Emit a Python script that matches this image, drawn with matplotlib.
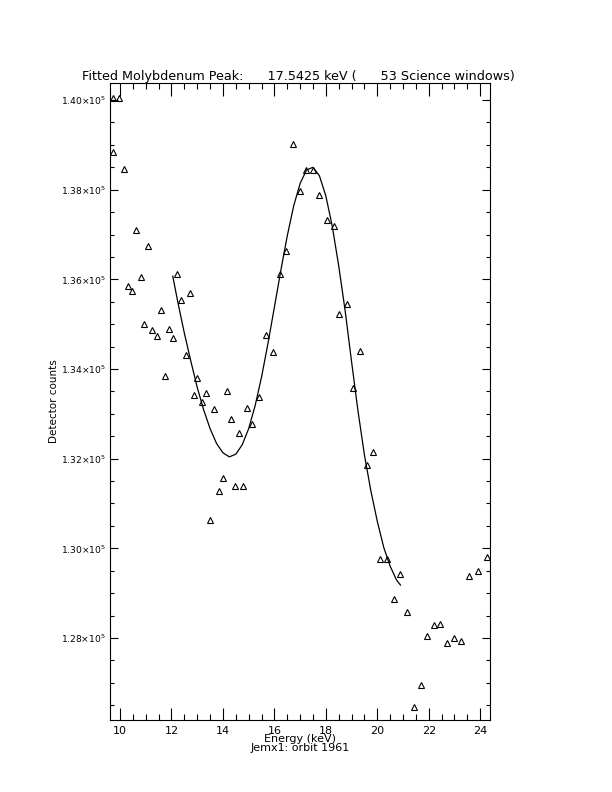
import matplotlib
matplotlib.use("Agg")
import matplotlib.pyplot as plt
from matplotlib.ticker import FixedLocator, MultipleLocator

# 測定点（三角マーカー）
energy = [9.71, 9.74, 9.97, 10.14, 10.31, 10.46, 10.63, 10.80, 10.93, 11.09,
          11.25, 11.43, 11.59, 11.75, 11.90, 12.06, 12.22, 12.36, 12.56, 12.71,
          12.87, 13.01, 13.17, 13.34, 13.49, 13.65, 13.83, 13.99, 14.15, 14.31,
          14.46, 14.62, 14.78, 14.95, 15.14, 15.42, 15.69, 15.94, 16.20, 16.46,
          16.72, 16.98, 17.24, 17.49, 17.75, 18.04, 18.30, 18.53, 18.81, 19.07,
          19.31, 19.59, 19.85, 20.11, 20.37, 20.63, 20.88, 21.16, 21.43, 21.68,
          21.93, 22.19, 22.45, 22.72, 22.98, 23.24, 23.55, 23.92, 24.26]
counts = [140040, 138830, 140040, 138460, 135860, 135750, 137110, 136050, 135010, 136740,
          134880, 134740, 135320, 133840, 134900, 134700, 136110, 135550, 134310, 135690,
          133410, 133810, 133270, 133470, 130630, 133100, 131270, 131560, 133520, 132890,
          131380, 132580, 131380, 133130, 132780, 133370, 134760, 134380, 136120, 136640,
          139030, 137980, 138440, 138440, 137880, 137320, 137190, 135230, 135450, 133570,
          134410, 131850, 132140, 129770, 129770, 128870, 129420, 128590, 126470, 126940,
          128050, 128290, 128320, 127880, 128010, 127930, 129390, 129500, 129800]

# フィット曲線
fit_energy = [12.05, 12.25, 12.50, 12.75, 13.00, 13.25, 13.50, 13.75, 14.00, 14.25,
              14.50, 14.75, 15.00, 15.25, 15.50, 15.75, 16.00, 16.25, 16.50, 16.75,
              17.00, 17.25, 17.50, 17.75, 18.00, 18.25, 18.50, 18.75, 19.00, 19.25,
              19.50, 19.75, 20.00, 20.25, 20.50, 20.75, 20.90]
fit_counts = [136070, 135480, 134800, 134180, 133590, 133090, 132670, 132340, 132130, 132040,
              132100, 132310, 132670, 133180, 133820, 134570, 135380, 136200, 136970, 137640,
              138140, 138440, 138500, 138310, 137860, 137180, 136300, 135300, 134160, 133060,
              132080, 131280, 130600, 130020, 129600, 129290, 129180]

x_ticks = [10, 12, 14, 16, 18, 20, 22, 24]
y_ticks = [128000, 130000, 132000, 134000, 136000, 138000, 140000]
y_tick_labels = [r"1.28$\times$10$^5$", r"1.30$\times$10$^5$", r"1.32$\times$10$^5$",
                 r"1.34$\times$10$^5$", r"1.36$\times$10$^5$", r"1.38$\times$10$^5$",
                 r"1.40$\times$10$^5$"]

title = "Fitted Molybdenum Peak:      17.5425 keV (      53 Science windows)"

fig = plt.figure(figsize=(6.12, 7.92), dpi=100)
ax = fig.add_axes([110 / 612, 72 / 792, 380 / 612, 637 / 792])

ax.plot(energy, counts, linestyle="none", marker="^", markersize=5,
        markerfacecolor="none", markeredgecolor="black", markeredgewidth=0.8)
ax.plot(fit_energy, fit_counts, color="black", linewidth=0.9)

ax.set_xlim(9.61, 24.38)
ax.set_ylim(126170, 140380)

ax.xaxis.set_major_locator(FixedLocator(x_ticks))
ax.xaxis.set_minor_locator(MultipleLocator(0.5))
ax.yaxis.set_major_locator(FixedLocator(y_ticks))
ax.yaxis.set_minor_locator(MultipleLocator(500))
ax.set_xticklabels([str(t) for t in x_ticks])
ax.set_yticklabels(y_tick_labels)

ax.tick_params(axis="x", which="major", direction="in", length=9, width=0.8,
               top=True, bottom=True, labelsize=8, pad=4)
ax.tick_params(axis="x", which="minor", direction="in", length=4.5, width=0.8,
               top=True, bottom=True)
ax.tick_params(axis="y", which="major", direction="in", length=5.5, width=0.8,
               left=True, right=True, labelsize=6.6, pad=3)
ax.tick_params(axis="y", which="minor", direction="in", length=2.8, width=0.8,
               left=True, right=True)
for s in ax.spines.values():
    s.set_linewidth(0.8)

ax.set_xlabel("Energy (keV)\nJemx1: orbit 1961", fontsize=8, labelpad=-1,
              linespacing=0.9)
ax.set_ylabel("Detector counts", fontsize=7.5, labelpad=1)

fig.text(0.488, 1 - 80 / 792, title, ha="center", va="baseline", fontsize=9.2)

fig.savefig("out.png", dpi=100)
